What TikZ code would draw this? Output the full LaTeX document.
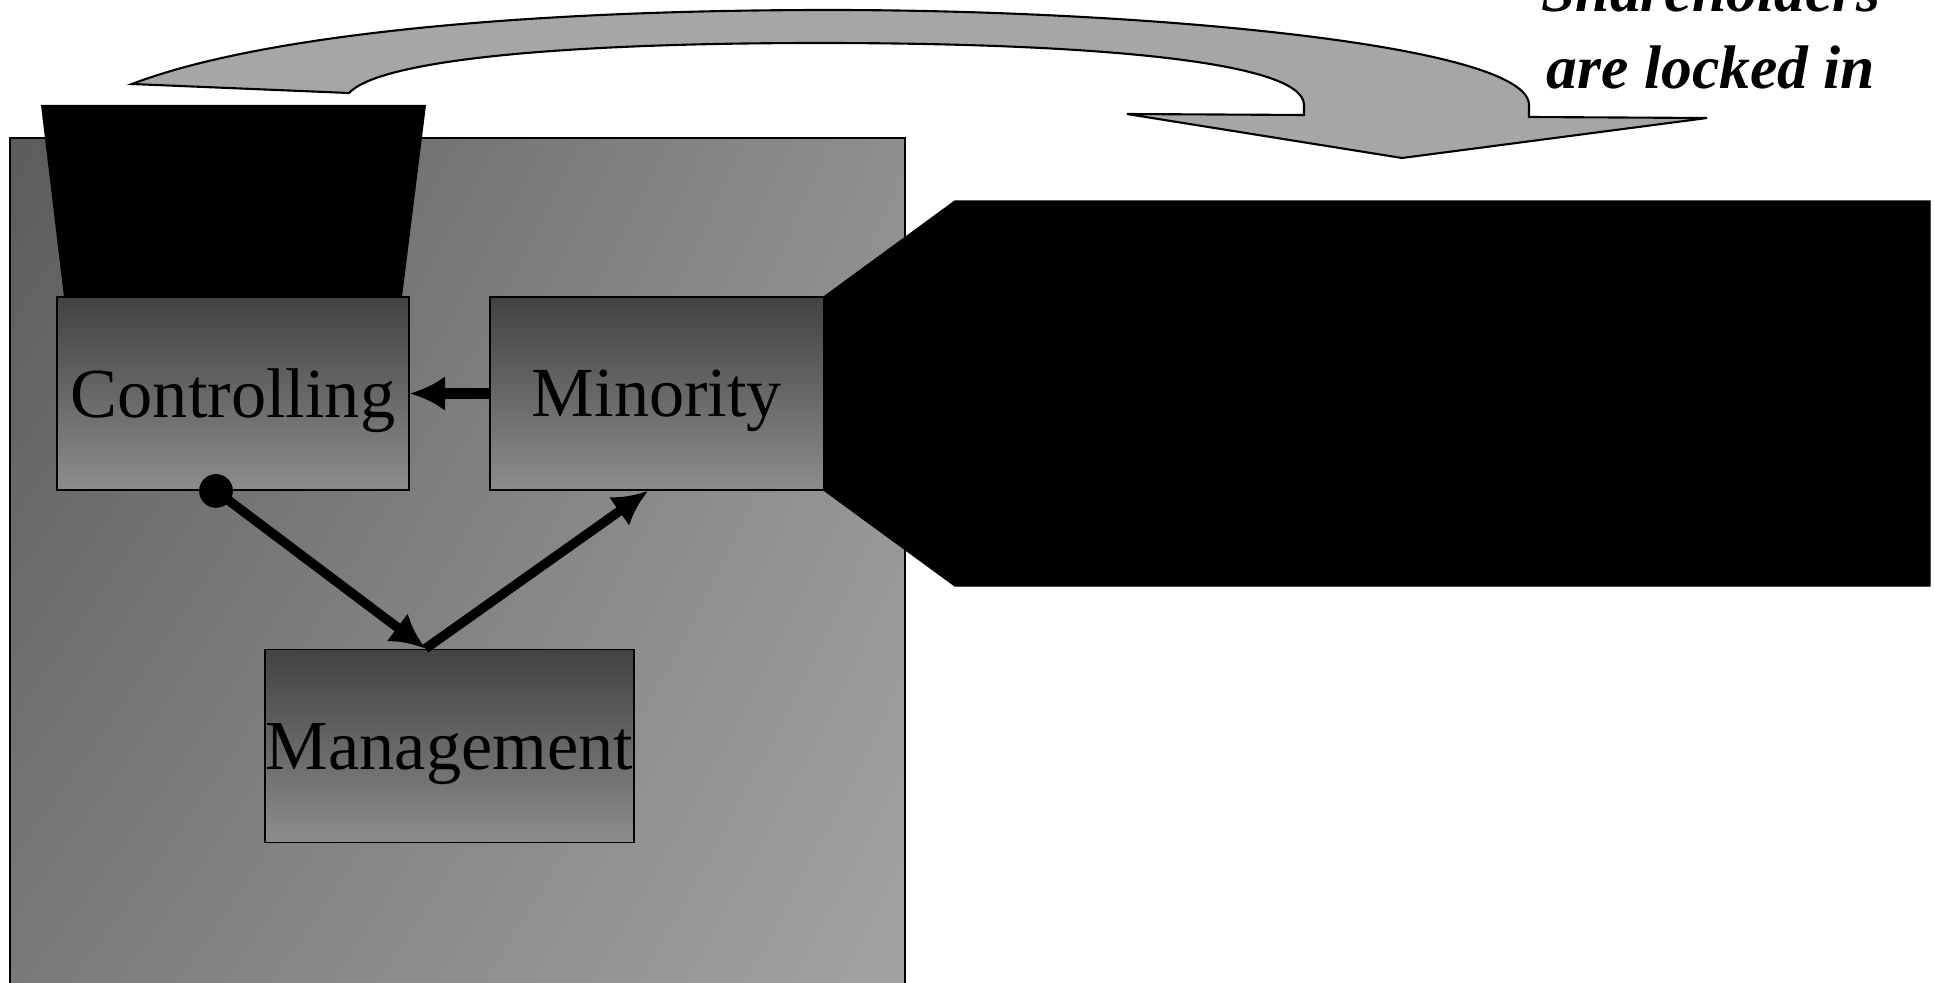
\documentclass[tikz,border=0pt]{standalone}
\usepackage{fontspec}
\setmainfont{Liberation Serif}
\newfontfamily\narrowsans{Liberation Sans}
\usetikzlibrary{arrows.meta,calc,shadings}

\definecolor{arrowgray}{RGB}{166,166,166}

\tikzset{
  unitbox/.style={draw=black, line width=0.5pt, top color=black!74, bottom color=black!45,
    minimum width=#1, minimum height=1.93cm, inner sep=0pt, text depth=0pt, font=\fontsize{20}{24}\selectfont},
  bigarrow/.style={line width=2.7pt, -{Latex[length=10pt,width=10pt]}},
  hidden/.style={inner sep=0pt, text=black, font=\narrowsans\fontsize{#1}{1.2\dimexpr#1pt\relax}\selectfont}
}

\begin{document}
\begin{tikzpicture}[x=0.01cm,y=-0.01cm]
\useasboundingbox (0,0) rectangle (1934,982);
\clip (0,0) rectangle (1934,982);

% shaded panel
\shade[draw=black, upper left=black!64, upper right=black!44, lower left=black!52, lower right=black!36] (10,138) rectangle (905,1000);

% black tab over the panel
\fill (41,105) -- (426,105) -- (402,297) -- (64,297) -- cycle;
\node (T) at (231,114) [hidden=13.3, anchor=north, align=center] {Minority\\“Withdrawal”\\right};

% the three parties
\node (C) at (233,393.5) [unitbox=3.52cm] {Controlling};
\node (M) at (657,393.5) [unitbox=3.34cm] {Minority};
\node (G) at (449.5,746) [unitbox=3.69cm] {Management};

\draw[bigarrow, line width=3.2pt, -{Latex[length=10pt,width=10pt]}] (M.west) -- (C.east);
\fill ($(C.south)+(-17,0)$) circle (4.8pt);
\draw[bigarrow] ($(C.south)+(-17,0)$) -- ($(G.north)+(-24,0)$);
\draw[bigarrow] ($(G.north)+(-24,0)$) -- ($(M.south)+(-9,0)$);

% callout from minority
\filldraw[draw=black] (M.north east) -- (955,201) -- (1930,201) -- (1930,586) -- (955,586) -- (M.south east) -- cycle;
\node (V) at (1000,277) [hidden=14.8, anchor=north west, align=left] {Valuation\\Prevent “non-pro rata distributions”\\Clearly define “duty of loyalty”};

% u-turn arrow
\filldraw[fill=arrowgray, draw=black, line width=0.6pt] (132,84) .. controls (260,35) and (520,10) .. (830,10)
  .. controls (1145,10) and (1529,45) .. (1529,105) -- (1529,117) -- (1707,118) -- (1402,158) -- (1127,114)
  -- (1304,115) -- (1304,105) .. controls (1304,60) and (1080,43) .. (820,43)
  .. controls (560,43) and (380,60) .. (349,93) -- cycle;

\node (S) at (1711,90) [anchor=south, align=center, inner sep=0pt, font=\bfseries\itshape\fontsize{17.5}{21.9}\selectfont] {Shareholders\\are locked in};

\end{tikzpicture}
\end{document}
